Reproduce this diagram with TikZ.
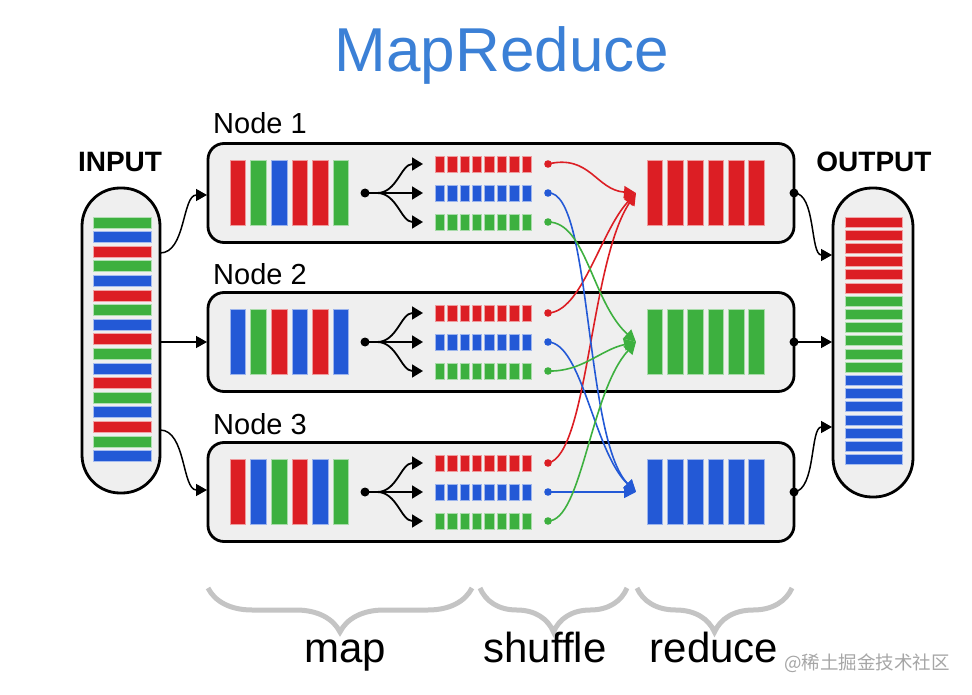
\documentclass[tikz,border=0pt]{standalone}
\usepackage{fontspec}
\setmainfont{Liberation Sans}
\newfontfamily\cjkfont{Noto Sans CJK SC}
\usetikzlibrary{arrows.meta,decorations.pathreplacing}
\definecolor{cR}{HTML}{DC1E24}
\definecolor{cG}{HTML}{3DB03F}
\definecolor{cB}{HTML}{2359D6}
\definecolor{boxfill}{HTML}{EFEFEF}
\definecolor{titleblue}{HTML}{3B80D6}
\definecolor{bracegray}{HTML}{C4C4C4}
\tikzset{
  nodebox/.style={draw=black, fill=boxfill, line width=2.8pt, rounded corners=16pt,
    minimum width=586pt, minimum height=99pt, inner sep=0pt, outer sep=0pt},
  colbox/.style={draw=black, fill=boxfill, line width=2.8pt, inner sep=0pt, outer sep=0pt},
  conn/.style={line width=1.5pt, -{Triangle[length=11pt,width=12pt]}},
  fan/.style={line width=1.8pt, -{Triangle[length=11pt,width=13pt]}},
  shuf/.style={line width=1.6pt, -{Triangle[length=12pt,width=12pt]}},
  bigbar/.style={line width=0.8pt},
  bracestyle/.style={bracegray, line width=5pt, decorate,
    decoration={brace, mirror, amplitude=44pt, aspect=0.5}},
  lbl/.style={font=\fontsize{42}{46}\selectfont, anchor=base, inner sep=0pt},
  nodelbl/.style={font=\fontsize{29}{32}\selectfont, anchor=base west, inner sep=0pt},
  iolbl/.style={font=\fontsize{28}{32}\selectfont\bfseries, anchor=base, inner sep=0pt},
}
\newcommand{\mrnode}[3]{%
  \node[nodebox] (#1) at (501,#2) {};
  \foreach \col [count=\i from 0] in {#3}
    \filldraw[\col, draw=\col!45] ({230+\i*20.6},{#2-32.5}) rectangle ++(15.5,65);
  \foreach \col/\dy in {cR/-29,cB/0,cG/29}{
    \foreach \k in {0,...,7}
      \filldraw[\col, draw=\col!45, line width=0.6pt] ({435+\k*12.4},{#2+\dy-8}) rectangle ++(9.5,16);
  }
  \coordinate (#1dot) at (365,#2);
  \coordinate (#1fa) at (423,#2-29);
  \coordinate (#1fb) at (423,#2);
  \coordinate (#1fc) at (423,#2+29);
  \coordinate (#1r) at (548,#2-29);
  \coordinate (#1b) at (548,#2);
  \coordinate (#1g) at (548,#2+29);
  \coordinate (#1o) at (794,#2);
  \fill (#1dot) circle (4.5pt);
  \draw[fan] (#1dot) -- ++(12,0) .. controls +(20,0) and +(-22,0) .. (#1fa);
  \draw[fan] (#1dot) -- (#1fb);
  \draw[fan] (#1dot) -- ++(12,0) .. controls +(20,0) and +(-22,0) .. (#1fc);
  \fill (#1o) circle (4.5pt);
}
\newcommand{\redbars}[2]{%
  \foreach \i in {0,...,5}
    \filldraw[#2, draw=#2!45] ({647+\i*20.3},{#1-32.5}) rectangle ++(15.5,65);
}
\begin{document}
\begin{tikzpicture}[x=1pt,y=-1pt]
\useasboundingbox (0,0) rectangle (972,695);
\fill[white] (0,0) rectangle (972,695);

% title
\node[titleblue, font=\fontsize{62}{70}\selectfont, inner sep=0pt] (title) at (502,55) {MapReduce};

% nodes
\node[nodelbl] (l1) at (213,134) {Node 1};
\node[nodelbl] (l2) at (213,284) {Node 2};
\node[nodelbl] (l3) at (213,434) {Node 3};
\mrnode{n1}{193}{cR,cG,cB,cR,cR,cG}
\mrnode{n2}{342}{cB,cG,cR,cB,cR,cB}
\mrnode{n3}{492}{cR,cB,cG,cR,cB,cG}
\redbars{193}{cR}
\redbars{342}{cG}
\redbars{492}{cB}

% input column
\node[iolbl] (inl) at (120,172) {INPUT};
\node[colbox, rounded corners=38pt, minimum width=78pt, minimum height=305pt] (in) at (121,340.5) {};
\foreach \col [count=\i from 0] in {cG,cB,cR,cG,cB,cR,cG,cB,cR,cG,cB,cR,cG,cB,cR,cG,cB}
  \filldraw[\col, draw=\col!40, line width=0.8pt] (93,{217+\i*14.6}) rectangle ++(58,11);

% output column
\node[iolbl] (outl) at (874,172) {OUTPUT};
\node[colbox, rounded corners=39pt, minimum width=80pt, minimum height=309pt] (out) at (873,342.5) {};
\foreach \col [count=\i from 0] in {cR,cR,cR,cR,cR,cR,cG,cG,cG,cG,cG,cG,cB,cB,cB,cB,cB,cB,cB}
  \filldraw[\col, draw=\col!40, line width=0.8pt] (845,{217+\i*13.2}) rectangle ++(57,10);

% input connectors
\coordinate (i1) at (160,253);
\coordinate (i2) at (160,342);
\coordinate (i3) at (160,430);
\coordinate (e1) at (207,195);
\coordinate (e2) at (207,342);
\coordinate (e3) at (207,490);
\draw[conn] (i1) .. controls (186,253) and (182,195) .. (e1);
\draw[conn] (i2) -- (e2);
\draw[conn] (i3) .. controls (186,430) and (182,490) .. (e3);

% output connectors
\coordinate (o1) at (832,255);
\coordinate (o2) at (832,342);
\coordinate (o3) at (832,427);
\draw[conn] (n1o) .. controls (816,193) and (810,255) .. (o1);
\draw[conn] (n2o) -- (o2);
\draw[conn] (n3o) .. controls (816,490) and (810,427) .. (o3);

% shuffle
\coordinate (tR) at (636,193);
\coordinate (tG) at (636,342);
\coordinate (tB) at (636,492);
\foreach \n in {n1,n2,n3}{
  \fill[cR] (\n r) circle (3.8pt);
  \fill[cB] (\n b) circle (3.8pt);
  \fill[cG] (\n g) circle (3.8pt);
}
\draw[shuf, cR] (n1r) .. controls (590,154) and (596,190) .. (tR);
\draw[shuf, cR] (n2r) .. controls (582,312) and (600,232) .. (tR);
\draw[shuf, cR] (n3r) .. controls (588,455) and (590,262) .. (tR);
\draw[shuf, cB] (n1b) .. controls (592,190) and (584,440) .. (tB);
\draw[shuf, cB] (n2b) .. controls (582,343) and (594,452) .. (tB);
\draw[shuf, cB] (n3b) -- (tB);
\draw[shuf, cG] (n1g) .. controls (586,222) and (592,302) .. (tG);
\draw[shuf, cG] (n2g) .. controls (582,372) and (600,350) .. (tG);
\draw[shuf, cG] (n3g) .. controls (582,521) and (590,392) .. (tG);

% braces and phase labels
\draw[bracestyle] (208,588) -- (472,588);
\draw[bracestyle] (480,588) -- (627,588);
\draw[bracestyle] (637,588) -- (792,588);
\node[lbl] (pmap) at (345,662) {map};
\node[lbl] (pshuf) at (545,662) {shuffle};
\node[lbl] (pred) at (714,662) {reduce};

% watermark
\node[gray!70, font=\cjkfont\fontsize{18.5}{20}\selectfont, inner sep=0pt] (wm) at (867,663) {@稀土掘金技术社区};
\end{tikzpicture}
\end{document}
